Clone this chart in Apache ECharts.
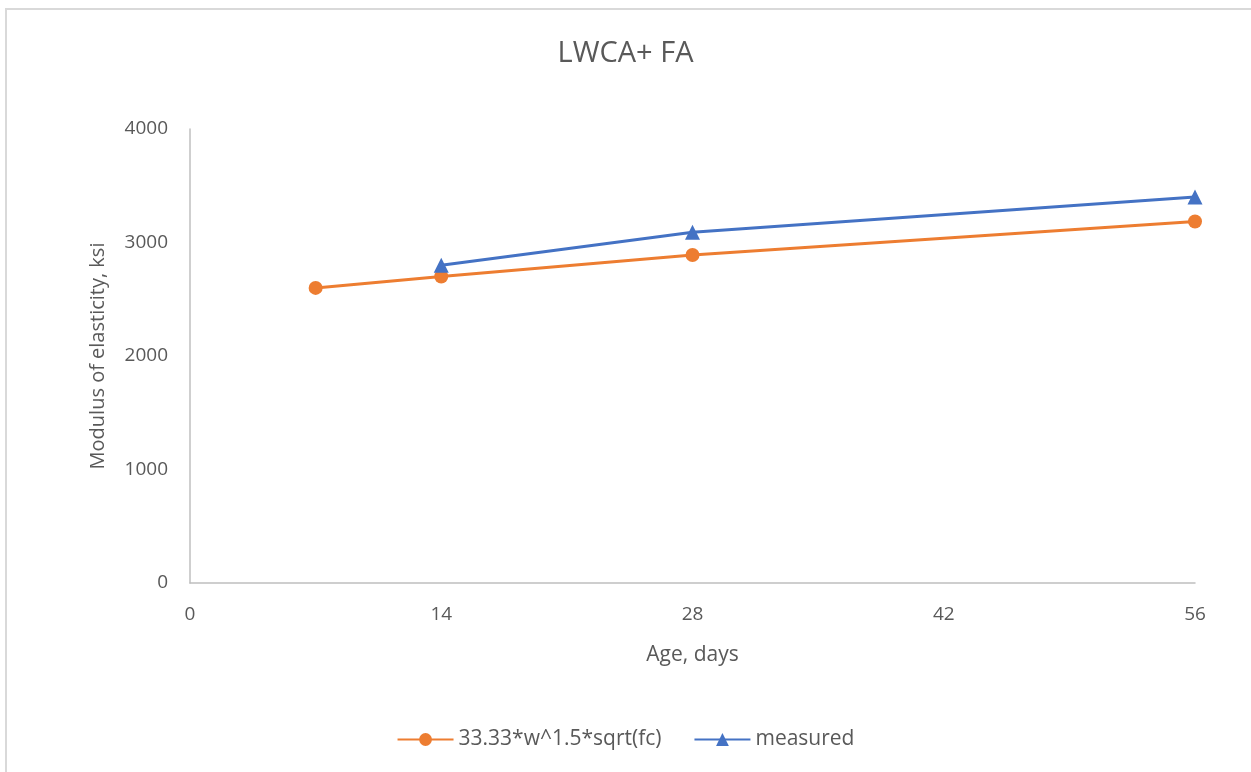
<!DOCTYPE html>
<html>
<head>
<meta charset="utf-8">
<script src="https://cdn.jsdelivr.net/npm/echarts@6/dist/echarts.min.js"></script>
<style>
html,body{margin:0;padding:0;background:#fff;}
#frame{position:absolute;left:5px;top:8px;width:1300px;height:800px;border-left:2px solid #d9d9d9;border-top:2px solid #d9d9d9;box-sizing:border-box;}
#chart{position:absolute;left:0;top:0;width:1251px;height:772px;}
</style>
</head>
<body>
<div id="frame"></div>
<div id="chart"></div>
<script>
const ageModel = [7, 14, 28, 56];
const modelValues = [2600, 2700, 2890, 3185];
const ageMeasured = [14, 28, 56];
const measuredValues = [2800, 3090, 3400];
const seriesNames = ['33.33*w^1.5*sqrt(fc)', 'measured'];
const titleText = 'LWCA+ FA';

const font = '"Open Sans", "Noto Sans", sans-serif';
const chart = echarts.init(document.getElementById('chart'));
chart.setOption({
  backgroundColor: 'transparent',
  animation: false,
  textStyle: {fontFamily: font},
  title: {
    text: titleText, left: 'center', top: 34,
    textStyle: {fontSize: 29, fontWeight: 'normal', color: '#595959', fontFamily: font}
  },
  legend: {
    bottom: 17, left: 'center', itemWidth: 56, itemHeight: 16, itemGap: 32,
    textStyle: {fontSize: 21, color: '#595959', fontFamily: font},
    data: seriesNames
  },
  grid: {left: 190, right: 56, top: 129, bottom: 189},
  xAxis: {
    type: 'value', min: 0, max: 56, interval: 14,
    name: 'Age, days', nameLocation: 'middle', nameGap: 62,
    nameTextStyle: {fontSize: 21, color: '#595959'},
    axisLine: {show: true, lineStyle: {color: '#bfbfbf', width: 1.5}},
    axisTick: {show: false},
    splitLine: {show: false},
    axisLabel: {fontSize: 19, color: '#595959', margin: 22}
  },
  yAxis: {
    type: 'value', min: 0, max: 4000, interval: 1000,
    name: 'Modulus of elasticity, ksi', nameLocation: 'middle', nameGap: 82,
    nameTextStyle: {fontSize: 20, color: '#595959'},
    axisLine: {show: true, lineStyle: {color: '#bfbfbf', width: 1.5}},
    axisTick: {show: false},
    splitLine: {show: false},
    axisLabel: {fontSize: 19, color: '#595959', margin: 22, formatter: v => String(v)}
  },
  series: [
    {
      name: seriesNames[0], type: 'line',
      data: ageModel.map((a, i) => [a, modelValues[i]]),
      symbol: 'circle', symbolSize: 14,
      itemStyle: {color: '#ed7d31'},
      lineStyle: {color: '#ed7d31', width: 3}
    },
    {
      name: seriesNames[1], type: 'line',
      data: ageMeasured.map((a, i) => [a, measuredValues[i]]),
      symbol: 'triangle', symbolSize: 15,
      itemStyle: {color: '#4472c4'},
      lineStyle: {color: '#4472c4', width: 3}
    }
  ]
});
</script>
</body>
</html>
